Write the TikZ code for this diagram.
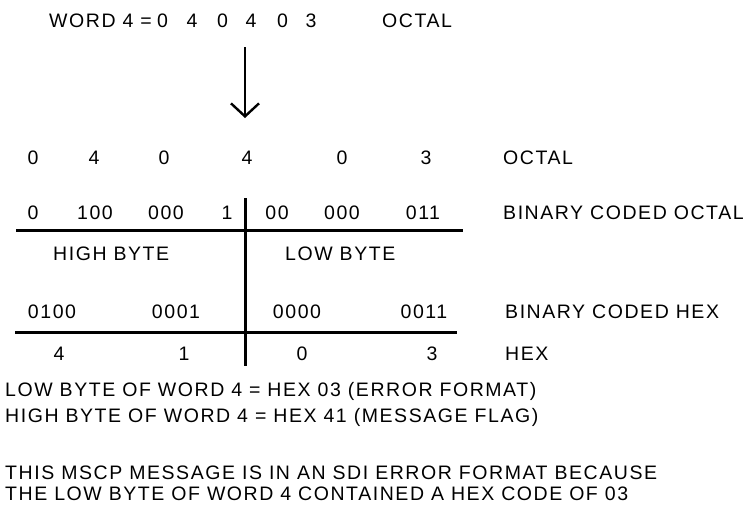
\documentclass[tikz,border=0pt]{standalone}
\usepackage{fontspec}
\setmainfont{Liberation Sans}[LetterSpace=8]
\usetikzlibrary{arrows.meta}
\begin{document}
\begin{tikzpicture}[x=1pt,y=-1pt,
  txt/.style={inner sep=0pt,font=\fontsize{19.5}{23}\selectfont},
  cen/.style={txt,anchor=base},
  lft/.style={txt,anchor=base west},
  rule/.style={line width=3pt},
  down/.style={line width=2.4pt,-{Straight Barb[length=13pt,width=28pt,line width=2.4pt]}}]
\useasboundingbox (0,0) rectangle (752,512);

% heading: the word in octal
\node[lft] (wlabel) at (49,27) {WORD 4 =};
\node[cen] (w1) at (162.5,27) {0};
\node[cen] (w2) at (192,27) {4};
\node[cen] (w3) at (222.5,27) {0};
\node[cen] (w4) at (251,27) {4};
\node[cen] (w5) at (282.5,27) {0};
\node[cen] (w6) at (311,27) {3};
\node[lft] (wunit) at (382,27) {OCTAL};

% octal digits
\node[cen] (o1) at (33,164) {0};
\node[cen] (o2) at (94,164) {4};
\node[cen] (o3) at (164,164) {0};
\node[cen] (o4) at (247,164) {4};
\node[cen] (o5) at (342,164) {0};
\node[cen] (o6) at (426,164) {3};
\node[lft] (olabel) at (503,164) {OCTAL};

\coordinate (atop) at (245,47);
\coordinate (atip) at (245,118);
\draw[down] (atop) -- (atip);

% binary coded octal
\node[cen] (b1) at (33,219) {0};
\node[cen] (b2) at (95,219) {100};
\node[cen] (b3) at (166,219) {000};
\node[cen] (b4) at (227,219) {1};
\node[cen] (b5) at (277,219) {00};
\node[cen] (b6) at (342,219) {000};
\node[cen] (b7) at (423,219) {011};
\node[lft] (blabel) at (503,219) {BINARY CODED OCTAL};

\coordinate (r1l) at (16,230);
\coordinate (r1r) at (463,230);
\draw[rule] (r1l) -- (r1r);

\node[lft] (high) at (53,260) {HIGH BYTE};
\node[lft] (low) at (285,260) {LOW BYTE};

% binary coded hex
\node[cen] (h1) at (52,318) {0100};
\node[cen] (h2) at (176,318) {0001};
\node[cen] (h3) at (297,318) {0000};
\node[cen] (h4) at (424,318) {0011};
\node[lft] (hlabel) at (505,318) {BINARY CODED HEX};

\coordinate (r2l) at (15,332);
\coordinate (r2r) at (457,332);
\draw[rule] (r2l) -- (r2r);

% hex digits
\node[cen] (x1) at (59,360) {4};
\node[cen] (x2) at (184,360) {1};
\node[cen] (x3) at (302,360) {0};
\node[cen] (x4) at (432,360) {3};
\node[lft] (xlabel) at (505,360) {HEX};

% byte divider
\coordinate (vtop) at (245,198);
\coordinate (vbot) at (245,366);
\draw[rule] (vtop) -- (vbot);

% notes
\node[lft] (n1) at (5,396) {LOW BYTE OF WORD 4 = HEX 03 (ERROR FORMAT)};
\node[lft] (n2) at (5,422) {HIGH BYTE OF WORD 4 = HEX 41 (MESSAGE FLAG)};
\node[lft] (n3) at (5,479) {THIS MSCP MESSAGE IS IN AN SDI ERROR FORMAT BECAUSE};
\node[lft] (n4) at (5,500) {THE LOW BYTE OF WORD 4 CONTAINED A HEX CODE OF 03};
\end{tikzpicture}
\end{document}
